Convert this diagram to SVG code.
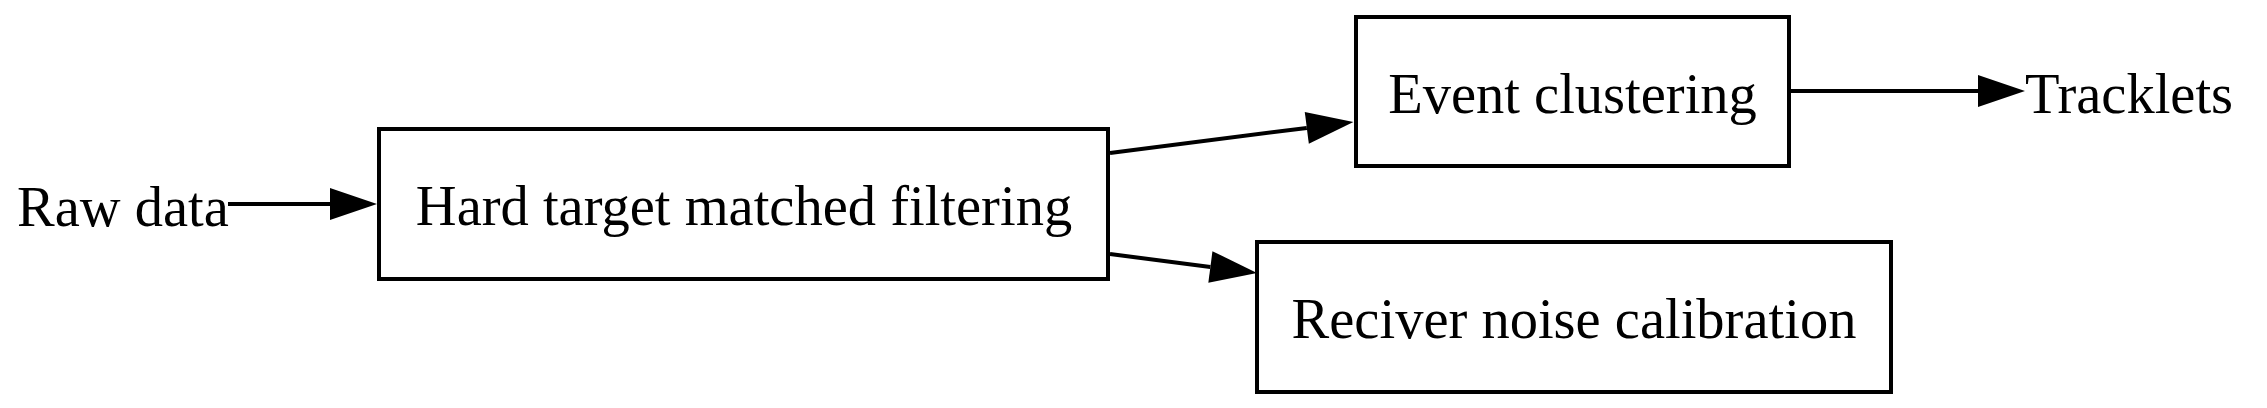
<svg xmlns="http://www.w3.org/2000/svg" width="2267" height="408" viewBox="0 0 2267 408">
<style>
.node rect{fill:#fff;stroke:#000;stroke-width:4}
text{font-family:"Liberation Serif","Times New Roman",serif;font-size:56.5px;fill:#000;text-anchor:middle}
.edge{fill:none;stroke:#000;stroke-width:4;marker-end:url(#arrow)}
</style>
<defs>
<marker id="arrow" markerUnits="userSpaceOnUse" viewBox="0 -17 47 34" markerWidth="47" markerHeight="34" refX="0" refY="0" orient="auto" overflow="visible">
<polygon points="0,-16 47,0 0,16" fill="#000"/>
</marker>
</defs>
<rect width="2267" height="408" fill="#fff"/>
<g id="connectors">
<path class="edge" d="M228,204 L330,204"/>
<path class="edge" d="M1110,153 L1306.8,127.9"/>
<path class="edge" d="M1110,254 L1210.4,267"/>
<path class="edge" d="M1789,91 L1978,91"/>
</g>
<g id="raw-data"><text x="123" y="226">Raw data</text></g>
<g id="hard-target" class="node"><rect x="379" y="129" width="729" height="150"/><text x="744" y="225">Hard target matched filtering</text></g>
<g id="event-clustering" class="node"><rect x="1356" y="17" width="433" height="149"/><text x="1572.5" y="113">Event clustering</text></g>
<g id="receiver-noise" class="node"><rect x="1257" y="242" width="634" height="150"/><text x="1574" y="338">Reciver noise calibration</text></g>
<g id="tracklets"><text x="2129" y="113">Tracklets</text></g>
</svg>
